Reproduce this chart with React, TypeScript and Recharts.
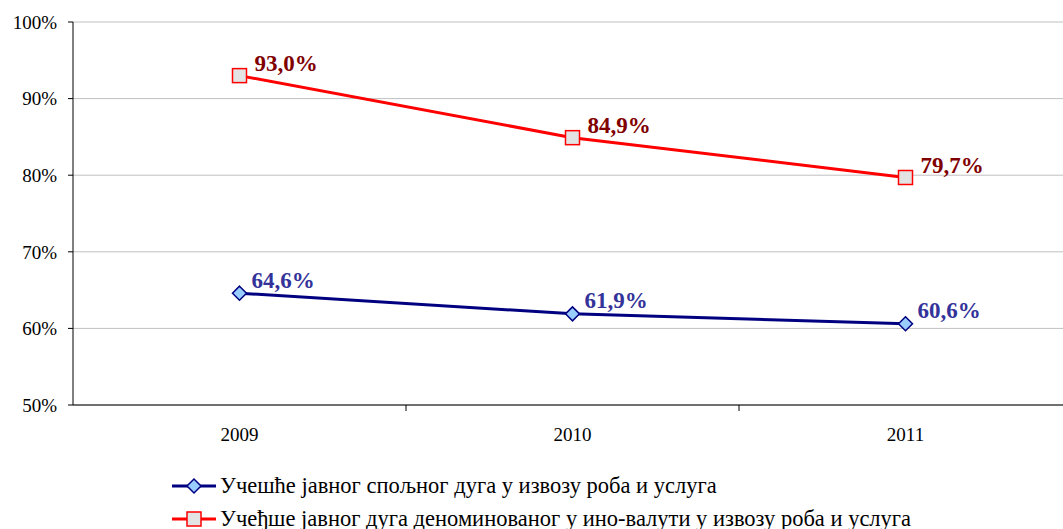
import { LineChart, Line, XAxis, YAxis, CartesianGrid, LabelList } from "recharts";

const YEARS = ["2009", "2010", "2011"];
const EXTERNAL_DEBT_SHARE = [64.6, 61.9, 60.6];
const FX_DEBT_SHARE = [93.0, 84.9, 79.7];
const Y_TICKS = [50, 60, 70, 80, 90, 100];

const LABEL_EXTERNAL = "Учешће јавног спољног дуга у извозу роба и услуга";
const LABEL_FX = "Учеђше јавног дуга деноминованог у ино-валути у извозу роба и услуга";

const FONT = "'Liberation Serif', 'Times New Roman', serif";
const NAVY = "#000080";
const RED = "#FF0000";

// the plot runs past the right edge of the window, as in the original
const CHART_W = 1078;
const CHART_H = 445;
const PLOT_BOTTOM = 405;
const MARGIN = { top: 22, right: 6, bottom: 0, left: 0 };
const Y_AXIS_W = 73;
const BAND = (CHART_W - MARGIN.left - MARGIN.right - Y_AXIS_W) / YEARS.length;

const data = YEARS.map((year, i) => ({
  year,
  external: EXTERNAL_DEBT_SHARE[i],
  fx: FX_DEBT_SHARE[i],
}));

function fmt(v: number): string {
  return v.toFixed(1).replace(".", ",") + "%";
}

function DiamondDot(props: any) {
  const { cx, cy } = props;
  if (cx == null || cy == null) return null;
  const r = 7;
  return (
    <polygon
      points={`${cx},${cy - r} ${cx + r},${cy} ${cx},${cy + r} ${cx - r},${cy}`}
      fill="#99CCFF"
      stroke={NAVY}
      strokeWidth={1.5}
    />
  );
}

function SquareDot(props: any) {
  const { cx, cy } = props;
  if (cx == null || cy == null) return null;
  return <rect x={cx - 7} y={cy - 7} width={14} height={14} fill="#E3E3E3" stroke={RED} strokeWidth={1.5} />;
}

function makeLabel(color: string, dx: number, dy: number) {
  return (props: any) => {
    const { x, y, value } = props;
    return (
      <text
        x={x + dx}
        y={y + dy}
        dominantBaseline="central"
        fill={color}
        fontFamily={FONT}
        fontWeight="bold"
        fontSize={23}
      >
        {fmt(value)}
      </text>
    );
  };
}

function YearTick(props: any) {
  const { x, y, payload, index } = props;
  return (
    <g>
      {index > 0 && <line x1={x - BAND / 2} x2={x - BAND / 2} y1={y} y2={y + 6} stroke="#000" />}
      <text x={x} y={y + 29} textAnchor="middle" dominantBaseline="central" fontFamily={FONT} fontSize={19} fill="#000">
        {payload.value}
      </text>
    </g>
  );
}

function LegendRow({ kind, label }: { kind: "diamond" | "square"; label: string }) {
  return (
    <div style={{ display: "flex", alignItems: "center", height: 33, whiteSpace: "nowrap" }}>
      <svg width={44} height={20} style={{ marginRight: 4, flexShrink: 0 }}>
        <line x1={0} x2={44} y1={10} y2={10} stroke={kind === "diamond" ? NAVY : RED} strokeWidth={3} />
        {kind === "diamond" ? <DiamondDot cx={22} cy={10} /> : <SquareDot cx={22} cy={10} />}
      </svg>
      <span style={{ fontFamily: FONT, fontSize: 22.5, color: "#000" }}>{label}</span>
    </div>
  );
}

export default function App() {
  return (
    <div
      style={{
        position: "relative",
        width: 1063,
        height: 529,
        overflow: "hidden",
        fontFamily: FONT,
        background: "#fff",
      }}
    >
      <style>{"body { margin: 0; overflow: hidden; }"}</style>
      <LineChart width={CHART_W} height={CHART_H} data={data} margin={MARGIN}>
        <CartesianGrid vertical={false} stroke="#C0C0C0" />
        <XAxis
          dataKey="year"
          axisLine={{ stroke: "#000" }}
          tickLine={false}
          tickSize={0}
          tickMargin={0}
          padding={{ left: BAND / 2, right: BAND / 2 }}
          height={CHART_H - PLOT_BOTTOM - MARGIN.bottom}
          tick={<YearTick />}
          interval={0}
        />
        <YAxis
          width={Y_AXIS_W}
          domain={[50, 100]}
          ticks={Y_TICKS}
          tickFormatter={(v) => `${v}%`}
          axisLine={{ stroke: "#000" }}
          tickLine={{ stroke: "#000" }}
          tickSize={5}
          tickMargin={11}
          tick={{ fill: "#000", fontFamily: FONT, fontSize: 19 }}
        />
        <Line
          dataKey="external"
          stroke={NAVY}
          strokeWidth={3}
          dot={<DiamondDot />}
          activeDot={false}
          isAnimationActive={false}
        >
          <LabelList dataKey="external" content={makeLabel("#333399", 12, -13)} />
        </Line>
        <Line
          dataKey="fx"
          stroke={RED}
          strokeWidth={3}
          dot={<SquareDot />}
          activeDot={false}
          isAnimationActive={false}
        >
          <LabelList dataKey="fx" content={makeLabel("#800000", 15, -12)} />
        </Line>
      </LineChart>
      <div style={{ position: "absolute", left: 172, top: 469 }}>
        <LegendRow kind="diamond" label={LABEL_EXTERNAL} />
        <LegendRow kind="square" label={LABEL_FX} />
      </div>
    </div>
  );
}
